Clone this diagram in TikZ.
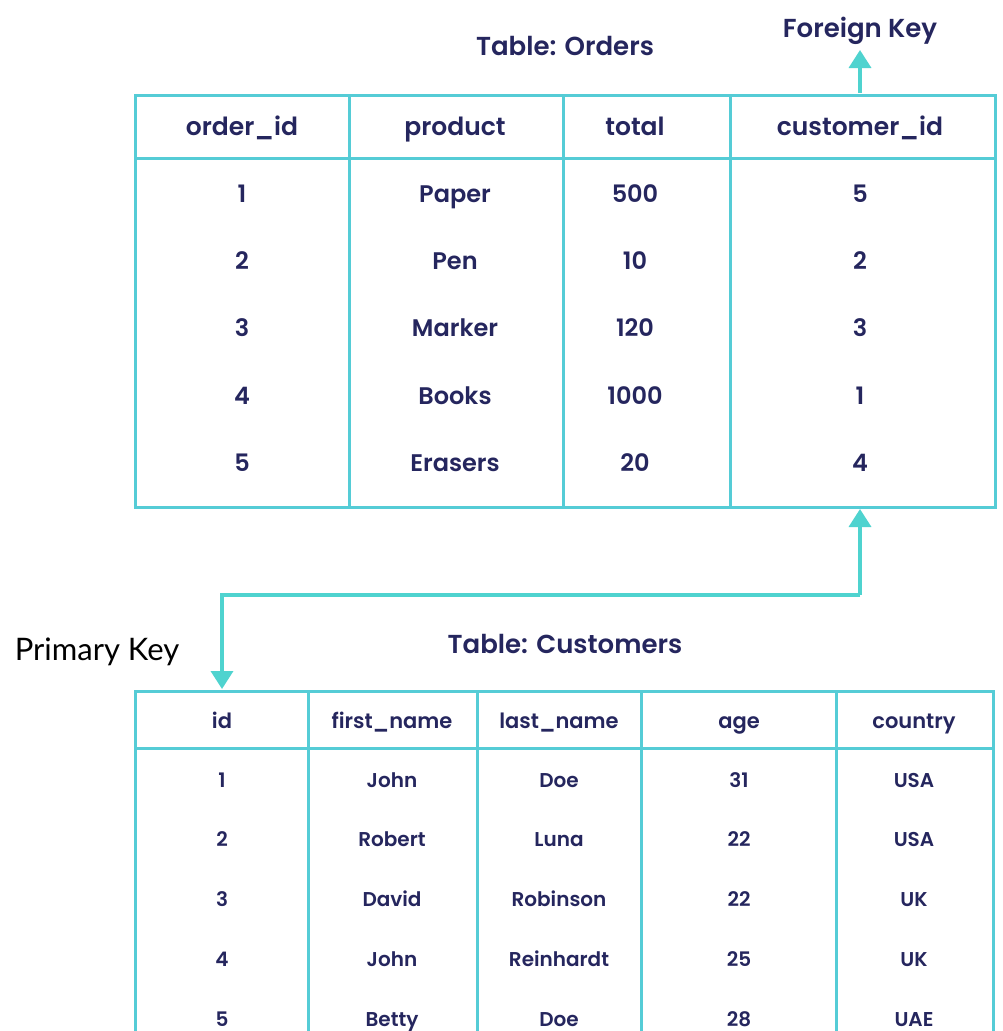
\documentclass[tikz,border=0pt]{standalone}
\usepackage{fontspec}
\newfontfamily\pop{Poppins SemiBold}
\newfontfamily\lat{Lato}
\usetikzlibrary{arrows.meta}
\definecolor{txt}{HTML}{25265E}
\definecolor{ln}{HTML}{55CCD6}
\definecolor{ar}{HTML}{4FD3CF}
\begin{document}
\begin{tikzpicture}[x=1pt,y=-1pt,
  grid/.style={draw=ln,line width=3pt},
  lbl/.style={text=txt,anchor=center,text height=7.2pt,text depth=0pt,inner sep=0pt},
  hdrA/.style={lbl,font=\pop\fontsize{25}{29}\selectfont,yshift=-5.2pt},
  cellA/.style={lbl,font=\pop\fontsize{24}{28}\selectfont,yshift=-5pt},
  hdrB/.style={lbl,font=\pop\fontsize{21}{25}\selectfont,yshift=-4.5pt},
  cellB/.style={lbl,font=\pop\fontsize{20}{24}\selectfont,yshift=-4.3pt},
  ttl/.style={lbl,font=\pop\fontsize{26}{30}\selectfont,yshift=-5.6pt},
  link/.style={draw=ar,line width=3.5pt,-{Triangle[width=22pt,length=18pt]}}]
\useasboundingbox (0,0) rectangle (1003,1031);
\fill[white] (0,0) rectangle (1003,1031);
% Orders table
\draw[grid] (135,95) rectangle (995,507);
\draw[grid] (135,158) -- (995,158);
\foreach \x in {349,563,730} \draw[grid] (\x,95) -- (\x,507);
\node[ttl] (tord) at (565,46) {Table: Orders};
\node[ttl] (fk) at (860,28) {Foreign Key};
\foreach \t/\x [count=\i] in {order\_id/242,product/455,total/635,customer\_id/860}
  \node[hdrA] (oh\i) at (\x,127) {\t};
\foreach \a/\b/\c/\d/\y [count=\r] in {1/Paper/500/5/194,2/Pen/10/2/261,3/Marker/120/3/328,4/Books/1000/1/396,5/Erasers/20/4/463}{
  \node[cellA] (oa\r) at (242,\y) {\a};
  \node[cellA] (ob\r) at (455,\y) {\b};
  \node[cellA] (oc\r) at (635,\y) {\c};
  \node[cellA] (od\r) at (860,\y) {\d};
}
\coordinate (fktop) at (860,93);
\coordinate (fktip) at (860,50);
\draw[link] (fktop) -- (fktip);
% Customers table
\draw[grid] (135,1040) -- (135,691) -- (993,691) -- (993,1040);
\draw[grid] (135,748) -- (993,748);
\foreach \x in {308,477,641,836} \draw[grid] (\x,691) -- (\x,1040);
\node[ttl] (tcus) at (565,644) {Table: Customers};
\node[font=\lat\fontsize{31}{34}\selectfont,text=black,text height=7.2pt,text depth=0pt,inner sep=0pt,yshift=-8.3pt] (pk) at (97,649) {Primary Key};
\foreach \t/\x [count=\i] in {id/222,first\_name/392,last\_name/559,age/739,country/914}
  \node[hdrB] (ch\i) at (\x,720) {\t};
\foreach \a/\b/\c/\d/\e/\y [count=\r] in {1/John/Doe/31/USA/780,2/Robert/Luna/22/USA/839,3/David/Robinson/22/UK/899,4/John/Reinhardt/25/UK/959,5/Betty/Doe/28/UAE/1019}{
  \node[cellB] (ca\r) at (222,\y) {\a};
  \node[cellB] (cb\r) at (392,\y) {\b};
  \node[cellB] (cc\r) at (559,\y) {\c};
  \node[cellB] (cd\r) at (739,\y) {\d};
  \node[cellB] (ce\r) at (914,\y) {\e};
}
% link
\coordinate (ordbot) at (860,595);
\coordinate (ptip) at (222,689);
\coordinate (fkbot) at (860,509);
\draw[link] (ordbot) -- (fkbot);
\draw[link] (ordbot) -- (222,595) -- (ptip);
\end{tikzpicture}
\end{document}
